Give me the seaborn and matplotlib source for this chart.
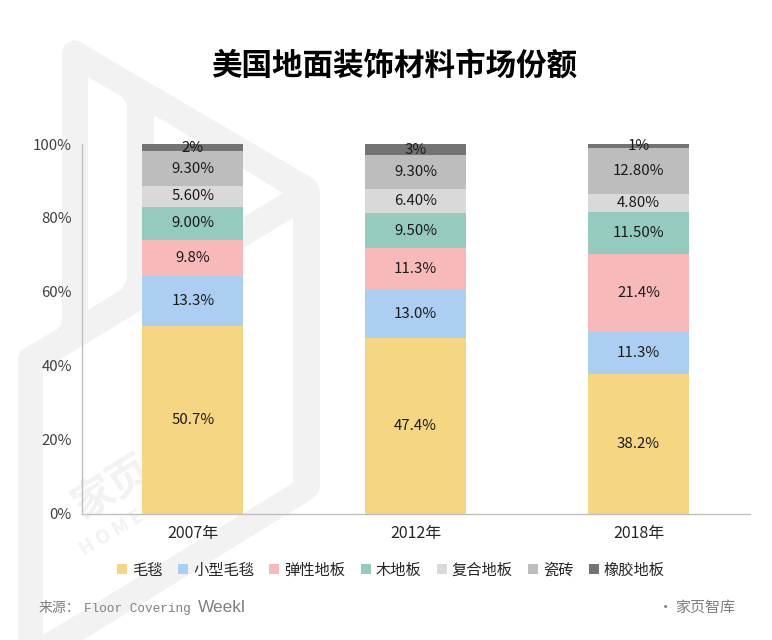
import seaborn as sns
import matplotlib.pyplot as plt
import pandas as pd
from matplotlib.patches import Polygon, Patch

W = 772
H = 640

def px(pts):
    return [(x / W, 1 - y / H) for x, y in pts]

def ft(fig, x, y, s, **kw):
    fig.text(x / W, 1 - y / H, s, **kw)

sns.set_theme(style="white")
plt.rcParams['font.family'] = ['Noto Sans CJK SC', 'DejaVu Sans']

anys = ["2007年", "2012年", "2018年"]
materials = ["毛毯", "小型毛毯", "弹性地板", "木地板", "复合地板", "瓷砖", "橡胶地板"]
colors = ["#F5D682", "#ABCEF2", "#F7B9BA", "#94CBBE", "#D9D9D9", "#BDBDBD", "#737373"]
vals = {
    "2007年": [50.7, 13.3, 9.8, 9.0, 5.6, 9.3, 2],
    "2012年": [47.4, 13.0, 11.3, 9.5, 6.4, 9.3, 3],
    "2018年": [38.2, 11.3, 21.4, 11.5, 4.8, 12.8, 1],
}
labels = {
    "毛毯": ["50.7%", "47.4%", "38.2%"],
    "小型毛毯": ["13.3%", "13.0%", "11.3%"],
    "弹性地板": ["9.8%", "11.3%", "21.4%"],
    "木地板": ["9.00%", "9.50%", "11.50%"],
    "复合地板": ["5.60%", "6.40%", "4.80%"],
    "瓷砖": ["9.30%", "9.30%", "12.80%"],
    "橡胶地板": ["2%", "3%", "1%"],
}

rows = []
for a in anys:
    for m, v in zip(materials, vals[a]):
        rows.append({"any": a, "material": m, "value": v})
df = pd.DataFrame(rows)

fig = plt.figure(figsize=(W / 100, H / 100), dpi=100)
ax = fig.add_axes([81.5 / W, 1 - 513.5 / H, 668.5 / W, 369.5 / H])
ax.patch.set_alpha(0)

#marca d'aigua del fons
outer = [(62, 52), (65, 44), (73, 40), (80, 42), (312, 178), (318, 184), (320, 192), (320, 486), (318, 493), (312, 499),
         (83, 640), (18, 640), (18, 358), (20, 351), (25, 348), (56, 330), (61, 325), (62, 320)]
holes = [
    [(88, 77), (122, 97), (127, 104), (127, 280), (122, 289), (88, 310)],
    [(154, 115), (283, 193), (154, 271)],
    [(293, 218), (293, 483), (43, 635), (43, 370)],
]
fig.add_artist(Polygon(px(outer), closed=True, fc="#F2F2F2", ec="none", zorder=-3, transform=fig.transFigure))
for h in holes:
    fig.add_artist(Polygon(px(h), closed=True, fc="white", ec="none", zorder=-2, transform=fig.transFigure))
ft(fig, 112, 488, "家页", fontsize=30, color="#F2F2F2", rotation=31, ha="center", va="center", weight="bold", zorder=-1)
ft(fig, 112, 533, "H O M E", fontsize=14, color="#F2F2F2", rotation=31, ha="center", va="center", style="italic", weight="bold", zorder=-1)

#el primer hue queda a dalt, per aixo es gira
sns.histplot(data=df, x="any", hue="material", weights="value", multiple="fill", shrink=0.453,
             hue_order=materials[::-1], palette=dict(zip(materials, colors)), alpha=1, linewidth=0,
             legend=False, ax=ax)

for cont, m in zip(ax.containers, materials):
    ax.bar_label(cont, labels=labels[m], label_type="center", fontsize=10.8, color="#1A1A1A")

plt.xlim(-0.5, 2.5)
plt.ylim(0, 1)
plt.xlabel("")
plt.ylabel("")
plt.yticks([0, 0.2, 0.4, 0.6, 0.8, 1.0], ["0%", "20%", "40%", "60%", "80%", "100%"])
ax.tick_params(axis="y", length=0, pad=7, labelsize=10.8, labelcolor="#404040")
ax.tick_params(axis="x", length=0, pad=8, labelsize=11.5, labelcolor="#262626")
sns.despine(ax=ax)
for s in ["left", "bottom"]:
    ax.spines[s].set_color("#BFBFBF")
    ax.spines[s].set_linewidth(1)

ft(fig, 394, 66, "美国地面装饰材料市场份额", fontsize=22, weight="bold", color="black", ha="center", va="center")

handles = [Patch(fc=c, ec="none") for c in colors]
fig.legend(handles, materials, ncol=7, loc="center", bbox_to_anchor=(391 / W, 1 - 570 / H), frameon=False,
           fontsize=11, handlelength=0.65, handleheight=0.65, handletextpad=0.33, columnspacing=1.0,
           labelcolor="#262626")

ft(fig, 39, 608, "来源：", fontsize=10, color="#7F7F7F", va="center")
ft(fig, 84, 609, "Floor Covering", fontsize=9.2, color="#7F7F7F", va="center", family="Liberation Mono")
ft(fig, 198, 608, "Weekl", fontsize=12.5, color="#7F7F7F", va="center", family="Liberation Sans")
ft(fig, 658, 608, "·", fontsize=11, color="#7F7F7F", va="center")
ft(fig, 675, 608, "家页智库", fontsize=10.8, color="#7F7F7F", va="center")

plt.savefig("out.png", dpi=100)
